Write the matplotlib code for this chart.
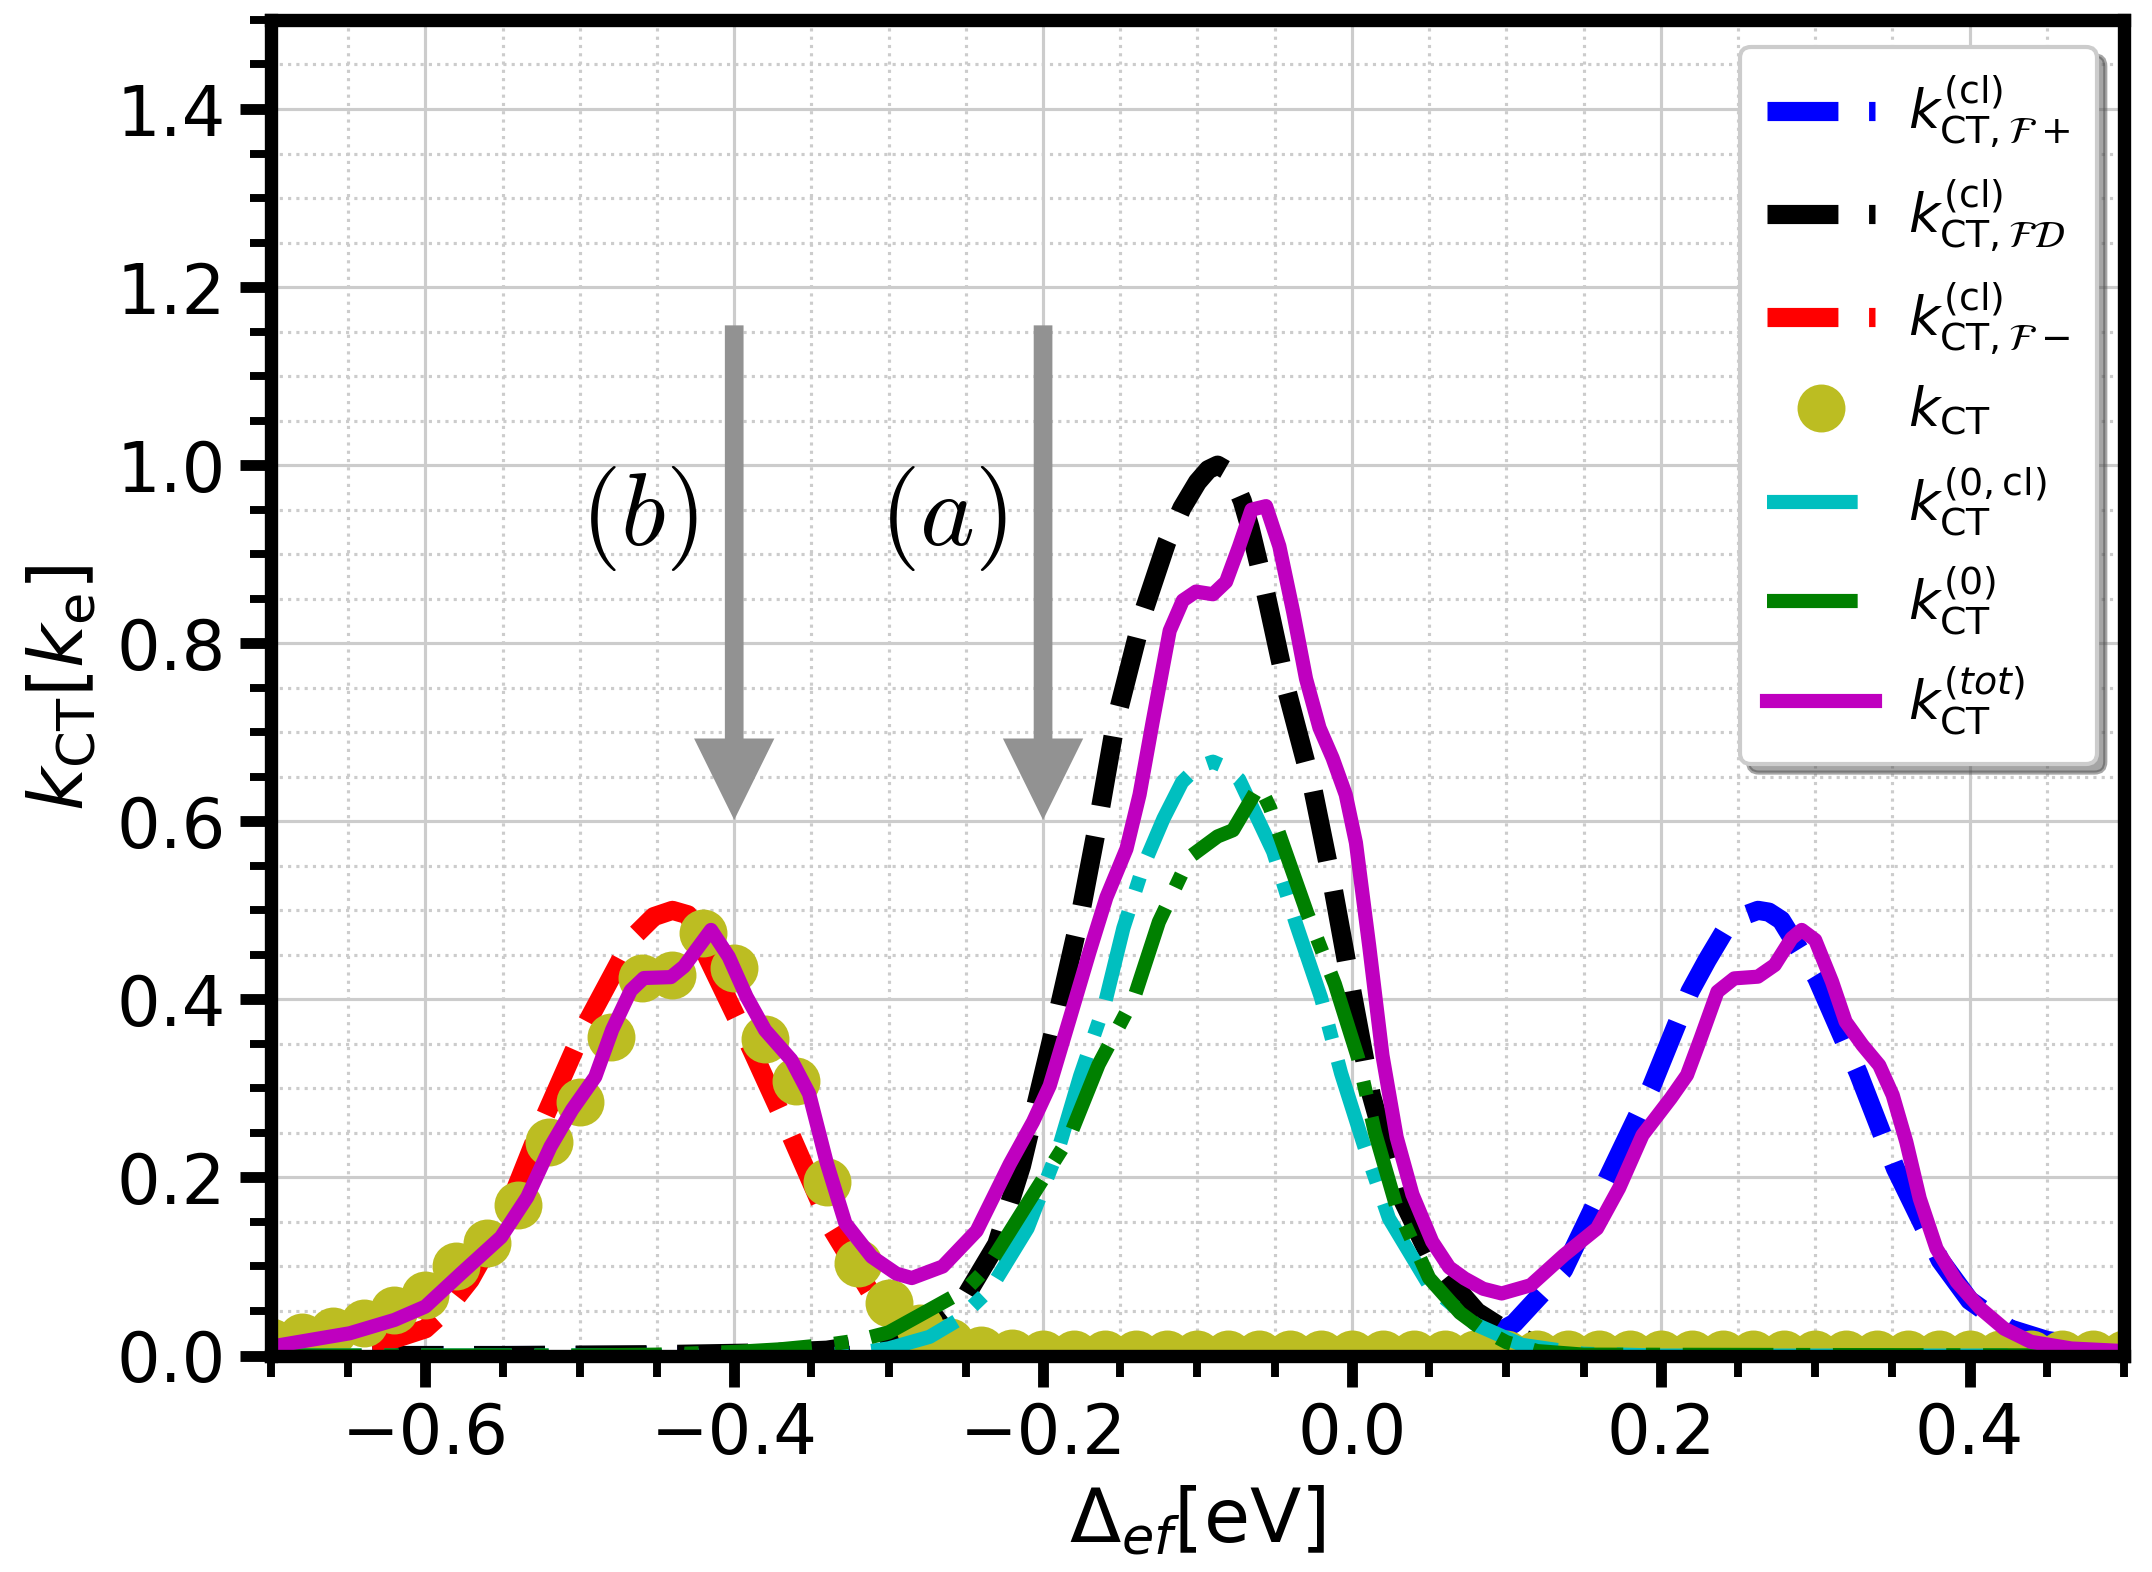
import matplotlib
matplotlib.use("Agg")
import matplotlib.pyplot as plt
import numpy as np
from matplotlib.ticker import MultipleLocator

# k_CT^(cl) F+  (blue dashed)
x_fplus = [-0.70, 0.00, 0.05, 0.08, 0.105, 0.137, 0.165, 0.194, 0.219, 0.230, 0.241, 0.252,
           0.263, 0.270, 0.278, 0.301, 0.328, 0.352, 0.381, 0.400, 0.426, 0.450, 0.477, 0.50]
y_fplus = [0.0, 0.0, 0.003, 0.012, 0.036, 0.096, 0.197, 0.302, 0.409, 0.444, 0.476, 0.493,
           0.500, 0.498, 0.489, 0.424, 0.317, 0.210, 0.107, 0.062, 0.030, 0.017, 0.010, 0.006]

# k_CT^(cl) FD  (black dashed)
x_fd = [-0.70, -0.55, -0.45, -0.38, -0.34, -0.31, -0.28, -0.265, -0.251, -0.23, -0.214, -0.191,
        -0.176, -0.164, -0.153, -0.135, -0.120, -0.110, -0.100, -0.093, -0.087, -0.081, -0.076,
        -0.071, -0.066, -0.056, -0.042, -0.025, -0.012, 0.000, 0.0125, 0.030, 0.050, 0.065,
        0.081, 0.100, 0.120, 0.150, 0.200, 0.50]
y_fd = [0.0, 0.0, 0.001, 0.003, 0.006, 0.014, 0.032, 0.045, 0.064, 0.125, 0.213, 0.380,
        0.494, 0.603, 0.712, 0.835, 0.913, 0.952, 0.981, 0.995, 1.000, 0.994, 0.980,
        0.960, 0.930, 0.858, 0.746, 0.634, 0.523, 0.409, 0.293, 0.185, 0.113, 0.081,
        0.049, 0.028, 0.012, 0.003, 0.0, 0.0]

# k_CT^(cl) F-  (red dashed)
x_fminus = [-0.70, -0.66, -0.63, -0.60, -0.586, -0.571, -0.55, -0.525, -0.4975, -0.466, -0.452,
            -0.44, -0.43, -0.417, -0.392, -0.363, -0.337, -0.31, -0.29, -0.26, -0.22, -0.15, 0.50]
y_fminus = [0.0, 0.004, 0.013, 0.030, 0.052, 0.085, 0.150, 0.259, 0.367, 0.469, 0.493,
            0.500, 0.495, 0.446, 0.356, 0.246, 0.143, 0.066, 0.035, 0.012, 0.003, 0.0, 0.0]

# k_CT  (dots, every 0.02 eV)
x_kct = np.linspace(-0.70, 0.50, 61)
y_kct = [0.015, 0.021, 0.028, 0.036, 0.051, 0.068, 0.100, 0.126, 0.169, 0.240,
         0.285, 0.358, 0.424, 0.427, 0.474, 0.435, 0.356, 0.308, 0.195, 0.104,
         0.059, 0.031, 0.015, 0.006, 0.003, 0.002, 0.002, 0.002, 0.002, 0.002,
         0.002, 0.002, 0.002, 0.002, 0.002, 0.002, 0.002, 0.002, 0.002, 0.002,
         0.002, 0.002, 0.002, 0.002, 0.002, 0.002, 0.002, 0.002, 0.002, 0.002,
         0.002, 0.002, 0.002, 0.002, 0.002, 0.002, 0.002, 0.002, 0.002, 0.002,
         0.002]

# k_CT^(0,cl)  (cyan dash-dot)
x_0cl = [-0.70, -0.36, -0.32, -0.30, -0.2735, -0.255, -0.234, -0.21, -0.19, -0.176, -0.16,
         -0.148, -0.135, -0.122, -0.11, -0.10, -0.09, -0.082, -0.073, -0.051, -0.036, -0.02,
         -0.007, 0.008, 0.024, 0.05, 0.08, 0.11, 0.15, 0.20, 0.50]
y_0cl = [0.0, 0.0, 0.003, 0.008, 0.021, 0.040, 0.075, 0.143, 0.232, 0.314, 0.395,
         0.480, 0.550, 0.603, 0.644, 0.661, 0.667, 0.661, 0.647, 0.566, 0.484, 0.402,
         0.317, 0.235, 0.154, 0.079, 0.035, 0.012, 0.002, 0.0, 0.0]

# k_CT^(0)  (green dash-dot)
x_0 = [-0.70, -0.50, -0.45, -0.40, -0.37, -0.34, -0.32, -0.30, -0.276, -0.25, -0.236, -0.21,
       -0.183, -0.164, -0.141, -0.125, -0.105, -0.087, -0.077, -0.060, -0.053, -0.029, -0.011,
       0.004, 0.015, 0.0285, 0.05, 0.07, 0.084, 0.10, 0.12, 0.15, 0.50]
y_0 = [0.0, 0.0, 0.001, 0.004, 0.007, 0.012, 0.017, 0.026, 0.049, 0.074, 0.099, 0.171,
       0.245, 0.327, 0.402, 0.487, 0.560, 0.583, 0.590, 0.640, 0.615, 0.497, 0.417,
       0.334, 0.250, 0.169, 0.087, 0.048, 0.030, 0.015, 0.005, 0.001, 0.0]

# k_CT^(tot)  (magenta solid)
x_tot = [-0.70, -0.649, -0.62, -0.60, -0.577, -0.551, -0.534, -0.519, -0.505, -0.49,
         -0.479, -0.467, -0.4585, -0.441, -0.4325, -0.415, -0.4036, -0.392, -0.38, -0.363,
         -0.3515, -0.34, -0.328, -0.311, -0.295, -0.285, -0.265, -0.243, -0.2216, -0.2065,
         -0.1957, -0.1828, -0.17, -0.159, -0.146, -0.1375, -0.129, -0.118, -0.1095, -0.101,
         -0.090, -0.0815, -0.073, -0.065, -0.0556, -0.047, -0.038, -0.0297, -0.021, -0.0125,
         -0.004, 0.0026, 0.0112, 0.0198, 0.029, 0.0392, 0.052, 0.063, 0.073, 0.085,
         0.097, 0.1158, 0.1373, 0.1587, 0.173, 0.1882, 0.2065, 0.217, 0.2258, 0.2367,
         0.2476, 0.2629, 0.2738, 0.2847, 0.2913, 0.300, 0.3109, 0.3197, 0.3306, 0.3415,
         0.3502, 0.359, 0.3677, 0.3786, 0.3917, 0.407, 0.4223, 0.4397, 0.466, 0.50]
y_tot = [0.010, 0.025, 0.040, 0.055, 0.092, 0.133, 0.178, 0.2345, 0.276, 0.313,
         0.366, 0.410, 0.424, 0.425, 0.437, 0.478, 0.448, 0.403, 0.3655, 0.332,
         0.294, 0.216, 0.1485, 0.111, 0.092, 0.087, 0.100, 0.140, 0.215, 0.2625,
         0.303, 0.378, 0.453, 0.5145, 0.569, 0.630, 0.712, 0.814, 0.848, 0.858,
         0.855, 0.869, 0.909, 0.950, 0.954, 0.909, 0.835, 0.760, 0.705, 0.671,
         0.630, 0.576, 0.460, 0.337, 0.245, 0.181, 0.128, 0.099, 0.0865, 0.075,
         0.0697, 0.079, 0.1127, 0.1427, 0.188, 0.2476, 0.289, 0.315, 0.356, 0.4086,
         0.4236, 0.4255, 0.4386, 0.4685, 0.478, 0.4667, 0.420, 0.375, 0.3487, 0.326,
         0.2925, 0.240, 0.1764, 0.120, 0.0828, 0.0528, 0.0303, 0.0154, 0.0079, 0.005]

# arrows marking (b) and (a)
arrow_x = [-0.4, -0.2]
mark_text = [r'$(b)$', r'$(a)$']
mark_x = [-0.462, -0.265]

fig, ax = plt.subplots(figsize=(2152 / 300, 1572 / 300), dpi=300)
fig.subplots_adjust(left=0.1259, right=0.987, bottom=0.1377, top=0.9873)

ax.plot(x_fplus, y_fplus, 'b--', lw=4.6, label=r'$k^{(\mathrm{cl})}_{\mathrm{CT},\mathcal{F}+}$')
ax.plot(x_fd, y_fd, 'k--', lw=4.6, label=r'$k^{(\mathrm{cl})}_{\mathrm{CT},\mathcal{FD}}$')
ax.plot(x_fminus, y_fminus, 'r--', lw=4.6, label=r'$k^{(\mathrm{cl})}_{\mathrm{CT},\mathcal{F}-}$')
ax.plot(x_kct, y_kct, 'o', color='tab:olive', ms=10.5, label=r'$k_{\mathrm{CT}}$')
ax.plot(x_0cl, y_0cl, 'c-.', lw=3.4, label=r'$k^{(0,\mathrm{cl})}_{\mathrm{CT}}$')
ax.plot(x_0, y_0, 'g-.', lw=3.4, label=r'$k^{(0)}_{\mathrm{CT}}$')
ax.plot(x_tot, y_tot, 'm-', lw=3.4, label=r'$k^{(tot)}_{\mathrm{CT}}$')

for xa in arrow_x:
    ax.arrow(xa, 1.157, 0, -0.464, width=0.0121, head_width=0.052, head_length=0.0915,
             color='#929292', lw=0, length_includes_head=False)
for t, xt in zip(mark_text, mark_x):
    ax.text(xt, 0.94, t, fontsize=25, math_fontfamily='cm', ha='center', va='center')

ax.set_xlim(-0.7, 0.5)
ax.set_ylim(0, 1.5)
ax.xaxis.set_major_locator(MultipleLocator(0.2))
ax.xaxis.set_minor_locator(MultipleLocator(0.05))
ax.yaxis.set_major_locator(MultipleLocator(0.2))
ax.yaxis.set_minor_locator(MultipleLocator(0.05))

ax.set_axisbelow(True)
ax.grid(which='major', color='#cccccc', lw=0.75, ls='-')
ax.grid(which='minor', color='#cccccc', lw=0.75, ls=':')

for sp in ax.spines.values():
    sp.set_linewidth(3.2)
ax.tick_params(which='major', direction='out', length=7.4, width=2.6, labelsize=16.5)
ax.tick_params(which='minor', direction='out', length=5, width=1.9)

ax.set_xlabel(r'$\Delta_{ef}[\mathrm{eV}]$', fontsize=18)
ax.set_ylabel(r'$k_{\mathrm{CT}}[k_{\mathrm{e}}]$', fontsize=18)

ax.legend(loc='upper right', fontsize=13, shadow=True, fancybox=True, framealpha=1,
          handletextpad=0.6, borderpad=0.5)

fig.savefig('out.png', dpi=300)
